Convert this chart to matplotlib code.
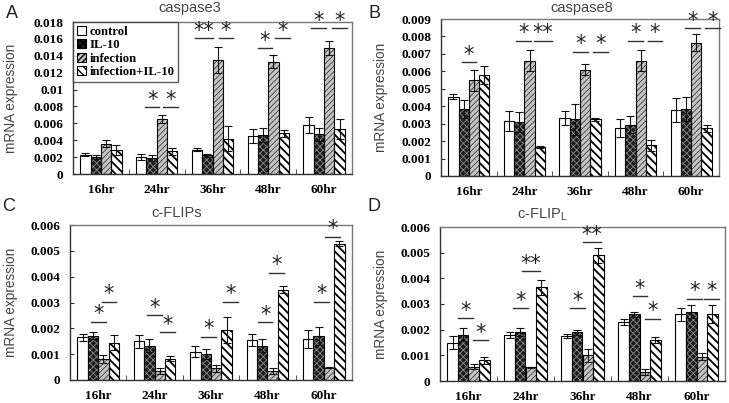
import matplotlib
matplotlib.use('Agg')
import matplotlib.pyplot as plt
import matplotlib.patches as mpatches
from matplotlib.ticker import FixedLocator, FuncFormatter
import numpy as np

timepoints = ['16hr', '24hr', '36hr', '48hr', '60hr']
groups = ['control', 'IL-10', 'infection', 'infection+IL-10']

# caspase3  (rows: control, IL-10, infection, infection+IL-10)
casp3_mean = [
    [0.0023, 0.0020, 0.0029, 0.0045, 0.0058],
    [0.0020, 0.0019, 0.0022, 0.0046, 0.0047],
    [0.0036, 0.0065, 0.0135, 0.0133, 0.0149],
    [0.0028, 0.0027, 0.0042, 0.0048, 0.0053]]
casp3_err = [
    [0.0002, 0.0004, 0.0002, 0.0008, 0.0009],
    [0.0002, 0.0004, 0.0002, 0.0008, 0.0008],
    [0.0004, 0.0005, 0.0015, 0.0008, 0.0008],
    [0.0006, 0.0004, 0.0015, 0.0004, 0.0012]]

# caspase8
casp8_mean = [
    [0.00455, 0.00315, 0.00335, 0.00275, 0.0038],
    [0.00385, 0.0031, 0.00325, 0.00295, 0.00385],
    [0.0055, 0.0066, 0.0061, 0.0066, 0.00765],
    [0.0058, 0.00165, 0.00325, 0.00175, 0.00275]]
casp8_err = [
    [0.00015, 0.00055, 0.0004, 0.0005, 0.0007],
    [0.0005, 0.00055, 0.0009, 0.0005, 0.0007],
    [0.0006, 0.0006, 0.0003, 0.0006, 0.0005],
    [0.0005, 0.00005, 0.0001, 0.0003, 0.0002]]

# c-FLIPs
flips_mean = [
    [0.00165, 0.0015, 0.0011, 0.00155, 0.0016],
    [0.00172, 0.00132, 0.0010, 0.00132, 0.00172],
    [0.0008, 0.00035, 0.00045, 0.00035, 0.00048],
    [0.00145, 0.00083, 0.00195, 0.0035, 0.00528]]
flips_err = [
    [0.00015, 0.00025, 0.0002, 0.00025, 0.00035],
    [0.00015, 0.00025, 0.0002, 0.00025, 0.00035],
    [0.00015, 0.0001, 0.00015, 0.0001, 0.00002],
    [0.0003, 0.0001, 0.0005, 0.00015, 0.0001]]

# c-FLIPL
flipl_mean = [
    [0.0015, 0.0018, 0.00175, 0.0023, 0.0026],
    [0.0018, 0.0019, 0.0019, 0.0026, 0.0027],
    [0.00055, 0.00053, 0.0010, 0.00035, 0.00095],
    [0.0008, 0.00365, 0.0049, 0.0016, 0.0026]]
flipl_err = [
    [0.00025, 0.00012, 0.00007, 0.00012, 0.00025],
    [0.00025, 0.00015, 0.0001, 0.0001, 0.00025],
    [0.0001, 0.00001, 0.00025, 0.0001, 0.00015],
    [0.00015, 0.0003, 0.0003, 0.0001, 0.00035]]

# significance marks: (timepoint index, offset from group centre, height, label)
casp3_sig = [(1, -0.08, 0.0079, '*'), (1, 0.25, 0.0079, '*'),
             (2, -0.15, 0.0161, '**'), (2, 0.24, 0.0161, '*'),
             (3, -0.06, 0.0149, '*'), (3, 0.25, 0.0161, '*'),
             (4, -0.10, 0.0173, '*'), (4, 0.28, 0.0173, '*')]
casp8_sig = [(0, 0.0, 0.00654, '*'),
             (1, -0.02, 0.00776, '*'), (1, 0.33, 0.00776, '**'),
             (2, 0.01, 0.00713, '*'), (2, 0.37, 0.00713, '*'),
             (3, 0.0, 0.00776, '*'), (3, 0.35, 0.00776, '*'),
             (4, 0.02, 0.00847, '*'), (4, 0.38, 0.00847, '*')]
flips_sig = [(0, 0.0, 0.00226, '*'), (0, 0.19, 0.00303, '*'),
             (1, 0.0, 0.00252, '*'), (1, 0.23, 0.00185, '*'),
             (2, -0.04, 0.00168, '*'), (2, 0.34, 0.00303, '*'),
             (3, -0.04, 0.00223, '*'), (3, 0.16, 0.00415, '*'),
             (4, -0.04, 0.00303, '*'), (4, 0.15, 0.00555, '*')]
flipl_sig = [(0, -0.05, 0.00244, '*'), (0, 0.21, 0.0016, '*'),
             (1, -0.09, 0.00283, '*'), (1, 0.10, 0.00429, '**'),
             (2, -0.09, 0.00283, '*'), (2, 0.17, 0.0054, '**'),
             (3, 0.01, 0.00331, '*'), (3, 0.23, 0.00242, '*'),
             (4, -0.04, 0.0032, '*'), (4, 0.27, 0.0032, '*')]

W, H = 729, 403
fig = plt.figure(figsize=(W / 100, H / 100), dpi=100)
fig.patch.set_facecolor('white')

SERIF = 'Liberation Serif'
SANS = 'Liberation Sans'


def ax_rect(l, r, t, b):
    return [l / W, 1 - b / H, (r - l) / W, (b - t) / H]


bar_w = 0.185
offsets = np.array([-1.5, -0.5, 0.5, 1.5]) * bar_w

styles = [
    dict(face='white', hatch=None, hcol='black', hlw=0.5),
    dict(face='#1c1c1c', hatch='xxxxx', hcol='#8a8a8a', hlw=0.6),
    dict(face='#c4c4c4', hatch='//////', hcol='#222222', hlw=0.5),
    dict(face='white', hatch='\\\\\\\\', hcol='black', hlw=1.3),
]


def set_hlw(p, lw):
    try:
        p.set_hatch_linewidth(lw)
    except Exception:
        pass


def draw_panel(rect, means, errs, ymax, ystep, sig, title, title_px, letter, letter_px,
               ylabel_px, legend=False):
    ax = fig.add_axes(ax_rect(*rect))
    x = np.arange(len(timepoints))
    for k in range(4):
        st = styles[k]
        xs = x + offsets[k]
        if st['hatch'] is not None:
            with plt.rc_context({'hatch.linewidth': st['hlw']}):
                bars = ax.bar(xs, means[k], bar_w, color=st['face'], edgecolor=st['hcol'],
                              hatch=st['hatch'], linewidth=0, zorder=2)
            for p in bars:
                set_hlw(p, st['hlw'])
            ax.bar(xs, means[k], bar_w, color='none', edgecolor='black',
                   linewidth=0.8, zorder=3)
        else:
            ax.bar(xs, means[k], bar_w, color=st['face'], edgecolor='black',
                   linewidth=0.8, zorder=2)
        ax.errorbar(xs, means[k], yerr=errs[k], fmt='none', ecolor='#111111',
                    elinewidth=0.8, capsize=2.6, capthick=0.8, zorder=4)

    for (g, off, yv, lab) in sig:
        wl = 0.32 if lab == '**' else 0.26
        xc = g + off
        ax.plot([xc - wl / 2, xc + wl / 2], [yv, yv], color='#333333', lw=1.0,
                clip_on=False, zorder=5)
        ax.annotate(lab, (xc, yv), xytext=(0, 1.0), textcoords='offset points',
                    ha='center', va='baseline', fontsize=15, family='DejaVu Sans',
                    color='#222222', annotation_clip=False, zorder=6)

    ax.set_xlim(-0.5, len(timepoints) - 0.5)
    ax.set_ylim(0, ymax)
    ax.set_xticks(x)
    ax.set_xticklabels(timepoints, family=SERIF, fontweight='bold', fontsize=9.5)
    ax.xaxis.set_minor_locator(FixedLocator(np.arange(0.5, len(timepoints) - 0.5, 1.0)))
    ax.tick_params(axis='x', which='major', length=0, pad=7)
    ax.tick_params(axis='x', which='minor', length=3.5, direction='in', color='#333333')
    yt = np.round(np.arange(0, ymax + ystep / 2, ystep), 6)
    ax.set_yticks(yt)
    ax.yaxis.set_major_formatter(FuncFormatter(lambda v, p: '%g' % round(v, 6)))
    ax.tick_params(axis='y', direction='in', length=3, pad=7, color='#333333')
    for lab in ax.get_yticklabels():
        lab.set_family(SERIF)
        lab.set_fontweight('bold')
        lab.set_fontsize(9.5)
    for s in ['left', 'bottom']:
        ax.spines[s].set_color('#333333')
        ax.spines[s].set_linewidth(1.0)
    for s in ['top', 'right']:
        ax.spines[s].set_color('#777777')
        ax.spines[s].set_linewidth(1.0)

    ax.set_ylabel('mRNA expression', family=SANS, fontsize=9.8, color='#444444')
    l, r, t, b = rect
    ax.yaxis.set_label_coords((ylabel_px - l) / (r - l), 0.5)

    fig.text(title_px[0] / W, 1 - title_px[1] / H, title, ha='center', va='center',
             family=SANS, fontsize=10.5, color='#444444')
    fig.text(letter_px[0] / W, 1 - letter_px[1] / H, letter, ha='center', va='center',
             family=SANS, fontsize=13, color='#222222')

    if legend:
        handles = []
        for k in range(4):
            st = styles[k]
            handles.append(mpatches.Patch(facecolor=st['face'], edgecolor='black',
                                          hatch=st['hatch'], linewidth=0.8))
        leg = ax.legend(handles, groups, loc='upper left', bbox_to_anchor=(0, 1),
                        borderaxespad=0, frameon=True, fancybox=False,
                        prop={'family': SERIF, 'weight': 'bold', 'size': 9.2},
                        handlelength=0.7, handleheight=0.7, handletextpad=0.3,
                        labelspacing=0.12, borderpad=0.3)
        leg.get_frame().set_edgecolor('#333333')
        leg.get_frame().set_linewidth(1.0)
        leg.set_zorder(10)
    return ax


draw_panel((73, 352, 22, 174), casp3_mean, casp3_err, 0.018, 0.002, casp3_sig,
           'caspase3', (190, 8), 'A', (12, 13), 18, legend=True)
draw_panel((441, 719, 19, 176), casp8_mean, casp8_err, 0.009, 0.001, casp8_sig,
           'caspase8', (582, 8), 'B', (374, 13), 388)
draw_panel((70, 352, 225, 380), flips_mean, flips_err, 0.006, 0.001, flips_sig,
           'c-FLIPs', (177, 213), 'C', (9, 207), 18)
draw_panel((440, 725, 227, 381), flipl_mean, flipl_err, 0.006, 0.001, flipl_sig,
           'c-FLIP$_\\mathregular{L}$', (542, 215), 'D', (374, 207), 388)

fig.savefig('out.png', dpi=100)
